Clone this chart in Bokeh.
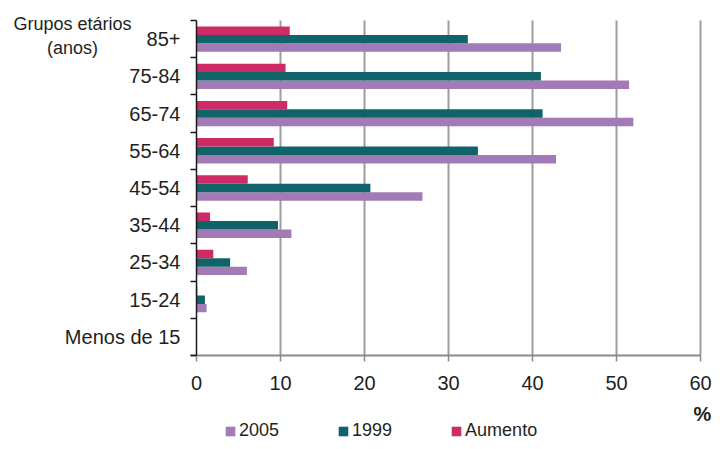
import pandas as pd
from bokeh.plotting import figure
from bokeh.models import (FixedTicker, Legend, LegendItem, Label,
                          ColumnDataSource, Range1d)
from bokeh.embed import file_html
from bokeh.resources import INLINE

# ---- data (bottom to top) ----
categories = ["Menos de 15", "15-24", "25-34", "35-44", "45-54",
              "55-64", "65-74", "75-84", "85+"]
v2005 = [0.0, 1.2, 6.0, 11.3, 26.9, 42.8, 52.0, 51.5, 43.4]
v1999 = [0.0, 1.0, 4.0, 9.7, 20.7, 33.5, 41.2, 41.0, 32.3]
aumento = [0.0, 0.1, 2.0, 1.6, 6.1, 9.2, 10.8, 10.6, 11.1]
series_names = ["2005", "1999", "Aumento"]
series_colors = ["#a27ab5", "#0f6369", "#cd2a66"]
x_ticks = [0, 10, 20, 30, 40, 50, 60]
axis_title = ["Grupos etários", "(anos)"]
unit_label = "%"

FONT = "Liberation Sans"
TXT = "#231f20"
BAR_H = 0.227
offsets = [-BAR_H, 0.0, BAR_H]

W, H = 712, 441
# frame = whole canvas; data area: x 0..60 -> px 196..700, y 0..9 -> px 355..20
PX_PER_X = (700 - 196) / 60.0
x0 = -196 / PX_PER_X
PX_PER_Y = (355 - 20) / 9.0
y1 = 9 + 20 / PX_PER_Y
y0 = -(H - 355) / PX_PER_Y

df = pd.DataFrame({"cat": categories, "v2005": v2005, "v1999": v1999,
                   "aumento": aumento})
df["pos"] = [i + 0.5 for i in range(len(categories))]
n_cat = len(categories)

p = figure(width=W, height=H, x_range=Range1d(x0, x0 + W / PX_PER_X),
           y_range=Range1d(y0, y1), output_backend="svg", toolbar_location=None,
           min_border=0, min_border_left=0, min_border_right=0,
           min_border_top=0, min_border_bottom=0)
p.outline_line_color = None
p.background_fill_color = "white"
p.border_fill_color = "white"
p.xgrid.visible = False
p.ygrid.visible = False

# vertical grid lines at the x ticks, limited to the category area
grid_src = ColumnDataSource(dict(x=x_ticks[1:]))
p.segment(x0="x", y0=0, x1="x", y1=n_cat, source=grid_src,
          line_color="#9d9d9d", line_width=2)

renderers = []
for col, name, color, off in zip(["v2005", "v1999", "aumento"], series_names,
                                 series_colors, offsets):
    src = ColumnDataSource(dict(y=[v + off for v in df["pos"]], right=df[col]))
    r = p.hbar(y="y", right="right", left=0, height=BAR_H, source=src,
               fill_color=color, line_color=None)
    renderers.append((name, r))

# x axis, drawn at y = 0 of the data
p.xaxis.fixed_location = 0
p.xaxis.bounds = (-0.75, 60)
p.xaxis.ticker = FixedTicker(ticks=x_ticks)
p.xaxis.axis_line_color = "#8a8a8a"
p.xaxis.axis_line_width = 2
p.xaxis.major_tick_line_color = "#8a8a8a"
p.xaxis.major_tick_line_width = 1.5
p.xaxis.major_tick_in = 0
p.xaxis.major_tick_out = 6
p.xaxis.minor_tick_line_color = None
p.xaxis.major_label_text_font = FONT
p.xaxis.major_label_text_font_size = "20px"
p.xaxis.major_label_text_color = TXT
p.xaxis.major_label_standoff = 14

# y axis at x = 0: labels at centres, tick marks at category boundaries
centres = [i + 0.5 for i in range(n_cat)]
bounds = list(range(n_cat + 1))
p.yaxis.fixed_location = 0
p.yaxis.bounds = (0, n_cat)
p.yaxis.ticker = FixedTicker(ticks=centres, minor_ticks=bounds)
p.yaxis.major_label_overrides = {c: lab for c, lab in zip(centres, categories)}
p.yaxis.axis_line_color = "#1a1a1a"
p.yaxis.axis_line_width = 1.5
p.yaxis.major_tick_line_color = None
p.yaxis.major_tick_in = 0
p.yaxis.major_tick_out = 0
p.yaxis.minor_tick_line_color = "#1a1a1a"
p.yaxis.minor_tick_line_width = 1.5
p.yaxis.minor_tick_in = 0
p.yaxis.minor_tick_out = 6
p.yaxis.major_label_text_font = FONT
p.yaxis.major_label_text_font_size = "20px"
p.yaxis.major_label_text_color = TXT
p.yaxis.major_label_standoff = 10

# legend
legend = Legend(items=[LegendItem(label=n, renderers=[r]) for n, r in renderers],
                location=(224, 0), orientation="horizontal",
                glyph_width=12, glyph_height=12, label_standoff=3, spacing=58,
                padding=0, margin=0, border_line_color=None,
                background_fill_alpha=0,
                label_text_font=FONT, label_text_font_size="18px",
                label_text_color=TXT, label_height=18)
p.add_layout(legend, "center")

# texts (screen units: from the canvas' bottom-left corner)
p.add_layout(Label(x=702, y=H - 413, x_units="screen", y_units="screen",
                   text=unit_label, text_font=FONT, text_font_size="20px",
                   text_font_style="bold", text_color=TXT,
                   text_align="center", text_baseline="middle"))
for t, ypx in zip(axis_title, [23, 47]):
    p.add_layout(Label(x=72, y=H - ypx, x_units="screen", y_units="screen",
                       text=t, text_font=FONT, text_font_size="18px",
                       text_color=TXT, text_align="center",
                       text_baseline="middle"))

open("out.html", "w").write(file_html(p, INLINE))
